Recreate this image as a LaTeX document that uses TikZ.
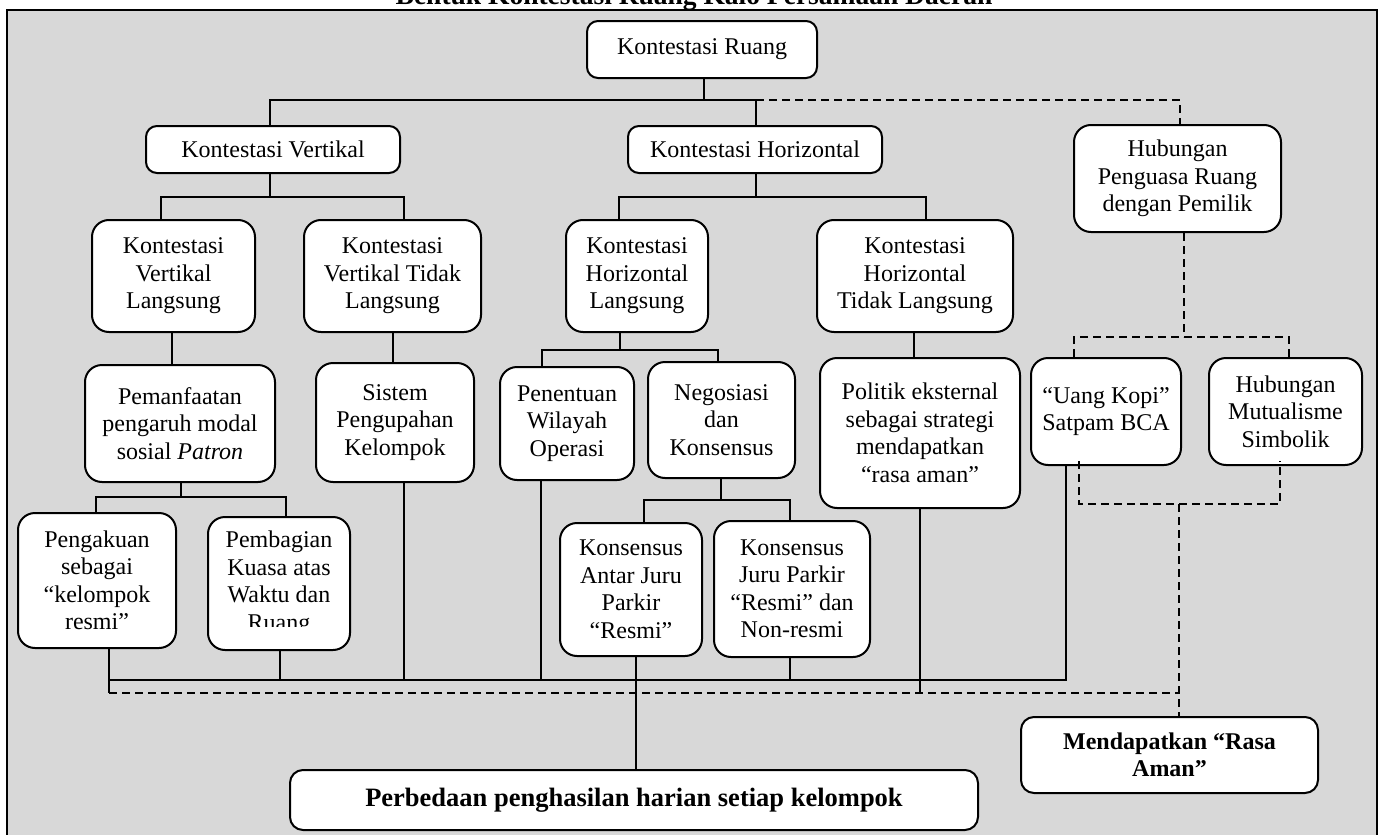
\documentclass[tikz,border=0pt]{standalone}
\usepackage{fontspec}
\setmainfont{Liberation Serif}
\definecolor{panel}{RGB}{216,216,216}
\begin{document}
\begin{tikzpicture}[x=1pt,y=-1pt,
  box/.style={draw=black, line width=2pt, fill=white, rounded corners=17pt,
    align=center, inner sep=0pt, font=\fontsize{24}{27.5}\selectfont},
  smallbox/.style={box, rounded corners=11pt},
  boldbox/.style={box, rounded corners=13pt, font=\fontsize{24}{27.5}\selectfont\bfseries},
  conn/.style={draw=black, line width=1.5pt},
  dconn/.style={draw=black, line width=1.5pt, dash pattern=on 8pt off 5pt}]

\useasboundingbox (0,0) rectangle (1385,835);

% heading, partly above the page edge
\node[anchor=base, inner sep=0pt, font=\fontsize{27.5}{30}\selectfont\bfseries] (title)
  at (694,5) {Bentuk Kontestasi Ruang Kalo Persamaan Daerah};

% grey panel
\draw[line width=2.4pt, fill=panel] (7,10) rectangle (1377,860);

% ---------- boxes ----------
\node[smallbox, minimum width=230pt, minimum height=57pt] (KR) at (702,49.5) {Kontestasi Ruang};
\node[smallbox, minimum width=254pt, minimum height=47pt] (KV) at (273,149.5) {Kontestasi Vertikal};
\node[smallbox, minimum width=254pt, minimum height=47pt] (KH) at (755,149.5) {Kontestasi Horizontal};
\node[box, minimum width=207pt, minimum height=107pt] (HP) at (1177.5,178.5) {\rule{0pt}{14pt}Hubungan\\Penguasa Ruang\\dengan Pemilik};

\node[box, minimum width=163pt, minimum height=112pt] (KVL) at (173.5,276) {Kontestasi\\Vertikal\\Langsung};
\node[box, minimum width=177pt, minimum height=112pt] (KVTL) at (392.5,276) {Kontestasi\\Vertikal Tidak\\Langsung};
\node[box, minimum width=142pt, minimum height=112pt] (KHL) at (637,276) {Kontestasi\\Horizontal\\Langsung};
\node[box, minimum width=196pt, minimum height=112pt] (KHTL) at (915,276) {Kontestasi\\Horizontal\\Tidak Langsung};

\node[box, minimum width=190pt, minimum height=117pt] (PPM) at (180,423.5) {Pemanfaatan\\pengaruh modal\\sosial \textit{Patron}};
\node[box, minimum width=158pt, minimum height=119pt] (SPK) at (395,422.5) {Sistem\\Pengupahan\\Kelompok};
\node[box, minimum width=134pt, minimum height=113pt] (PWO) at (567,423.5) {Penentuan\\Wilayah\\Operasi};
\node[box, minimum width=147pt, minimum height=116pt] (NDK) at (721.5,420) {Negosiasi\\dan\\Konsensus};
\node[box, minimum width=200pt, minimum height=150pt] (PE) at (920,433) {Politik eksternal\\sebagai strategi\\mendapatkan\\“rasa aman”};
\node[box, minimum width=150pt, minimum height=107pt] (UK) at (1106,411.5) {“Uang Kopi”\\Satpam BCA};
\node[box, minimum width=153pt, minimum height=107pt] (HMS) at (1285.5,411.5) {\rule{0pt}{12pt}Hubungan\\Mutualisme\\Simbolik};

\node[box, minimum width=158pt, minimum height=135pt] (PS) at (97,580.5) {Pengakuan\\sebagai\\“kelompok\\resmi”};
\node[box, minimum width=142pt, minimum height=133pt] (PK) at (279,583.5) {Pembagian\\Kuasa atas\\Waktu dan\\Ruang};
\node[box, minimum width=142pt, minimum height=133pt] (KAJ) at (631,589.5) {Konsensus\\Antar Juru\\Parkir\\“Resmi”};
\node[box, minimum width=156pt, minimum height=136pt] (KJP) at (792,589) {Konsensus\\Juru Parkir\\“Resmi” dan\\Non-resmi};

\node[boldbox, minimum width=297pt, minimum height=76pt] (MRA) at (1169.5,755) {Mendapatkan “Rasa\\Aman”};
\node[boldbox, minimum width=688pt, minimum height=60pt,
      font=\fontsize{26.5}{30}\selectfont\bfseries] (PPH) at (634,800) {Perbedaan penghasilan harian setiap kelompok};

% the last line of this box runs past its text frame
\fill[white] ([xshift=12pt]PK.west |- 0,626.5) rectangle ([xshift=-12pt]PK.east |- 0,643);

% ---------- junction points ----------
\coordinate (t0) at (704,100);
\coordinate (t0l) at (270,100);
\coordinate (t0r) at (756,100);
\coordinate (t0d) at (1180,100);

\coordinate (v1) at (270,197);
\coordinate (v1l) at (161,197);
\coordinate (v1r) at (404,197);
\coordinate (h1) at (756,197);
\coordinate (h1l) at (619,197);
\coordinate (h1r) at (926,197);

\coordinate (xa) at (172,0);
\coordinate (xb) at (393,0);
\coordinate (xc) at (914,0);
\coordinate (k2) at (620,350);
\coordinate (k2l) at (542,350);
\coordinate (k2r) at (718,350);
\coordinate (p2) at (1184,337);
\coordinate (p2l) at (1074,337);
\coordinate (p2r) at (1289,337);

\coordinate (m3) at (181,497);
\coordinate (m3l) at (96,497);
\coordinate (m3r) at (286,497);
\coordinate (n3) at (721,500);
\coordinate (n3l) at (644,500);
\coordinate (n3r) at (790,500);
\coordinate (u3l) at (1079,504);
\coordinate (u3r) at (1280,504);
\coordinate (u3m) at (1179,504);

\coordinate (sL) at (109,680);
\coordinate (sR) at (1066,680);
\coordinate (dL) at (109,693);
\coordinate (dR) at (1179,693);
\coordinate (cPK) at (280,680);
\coordinate (cSPK) at (404,680);
\coordinate (cPWO) at (541,680);
\coordinate (cKAJ) at (636,680);
\coordinate (cKJP) at (790,680);
\coordinate (cPE) at (920,693);

% ---------- connectors ----------
\draw[conn] (KR.south -| t0) -- (t0);
\draw[conn] (KV.north -| t0l) -- (t0l) -- (t0r) -- (KH.north -| t0r);
\draw[dconn] (t0r) -- (t0d) -- (HP.north -| t0d);

\draw[conn] (KV.south -| v1) -- (v1);
\draw[conn] (KVL.north -| v1l) -- (v1l) -- (v1r) -- (KVTL.north -| v1r);
\draw[conn] (KH.south -| h1) -- (h1);
\draw[conn] (KHL.north -| h1l) -- (h1l) -- (h1r) -- (KHTL.north -| h1r);

\draw[conn] (KVL.south -| xa) -- (PPM.north -| xa);
\draw[conn] (KVTL.south -| xb) -- (SPK.north -| xb);
\draw[conn] (KHL.south -| k2) -- (k2);
\draw[conn] (PWO.north -| k2l) -- (k2l) -- (k2r) -- (NDK.north -| k2r);
\draw[conn] (KHTL.south -| xc) -- (PE.north -| xc);
\draw[dconn] (HP.south -| p2) -- (p2);
\draw[dconn] (UK.north -| p2l) -- (p2l) -- (p2r) -- (HMS.north -| p2r);

\draw[conn] (PPM.south -| m3) -- (m3);
\draw[conn] (PS.north -| m3l) -- (m3l) -- (m3r) -- (PK.north -| m3r);
\draw[conn] (NDK.south -| n3) -- (n3);
\draw[conn] (KAJ.north -| n3l) -- (n3l) -- (n3r) -- (KJP.north -| n3r);
\draw[dconn] ([yshift=5pt]UK.south -| u3l) -- (u3l) -- (u3r) -- ([yshift=5pt]HMS.south -| u3r);
\draw[dconn] (u3m) -- (MRA.north -| u3m);

\draw[conn] (PS.south -| sL) -- (dL);
\draw[conn] (sL) -- (sR) -- (UK.south -| sR);
\draw[conn] (PK.south -| cPK) -- (cPK);
\draw[conn] (SPK.south -| cSPK) -- (cSPK);
\draw[conn] (PWO.south -| cPWO) -- (cPWO);
\draw[conn] (KJP.south -| cKJP) -- (cKJP);
\draw[conn] (KAJ.south -| cKAJ) -- (PPH.north -| cKAJ);
\draw[conn] (PE.south -| cPE) -- (cPE);
\draw[dconn] (dL) -- (dR);
\end{tikzpicture}
\end{document}
